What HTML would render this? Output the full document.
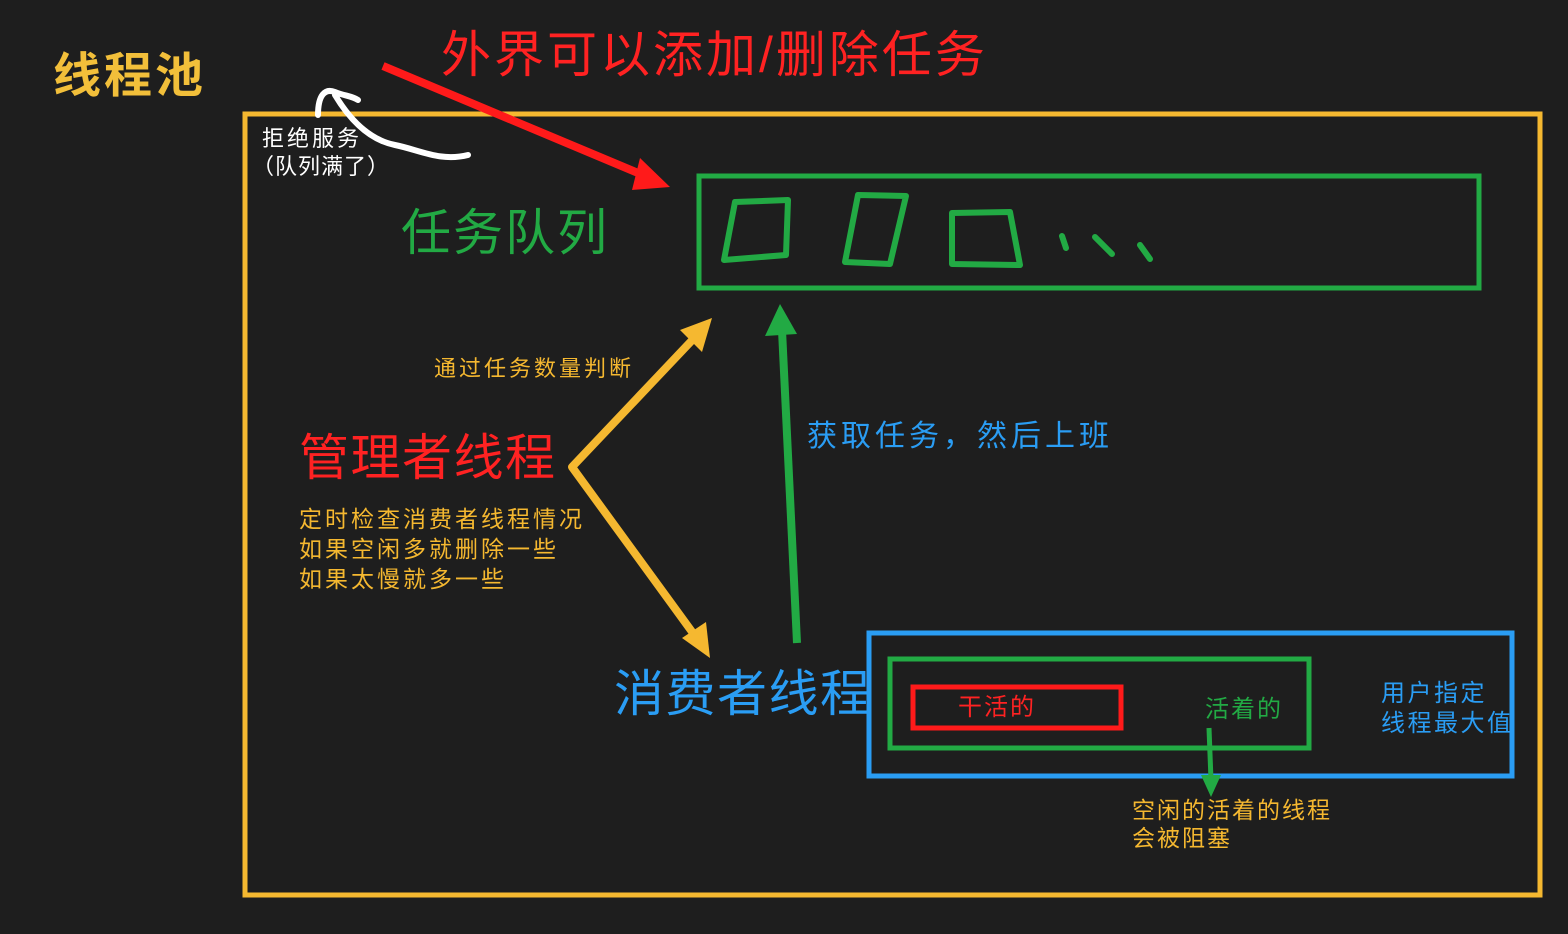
<!DOCTYPE html>
<html><head><meta charset="utf-8"><style>
html,body{margin:0;padding:0;background:#1e1e1e;}
svg{display:block}
text{font-family:"Liberation Sans","Noto Sans CJK SC",sans-serif;}
</style></head><body>
<svg width="1568" height="934" viewBox="0 0 1568 934" xmlns="http://www.w3.org/2000/svg">
<rect width="1568" height="934" fill="#1e1e1e"/>
<text x="53" y="92" font-size="48" fill="#f2bf3a" font-weight="bold" letter-spacing="3">线程池</text>
<text x="441" y="72" font-size="50" fill="#ff2222" letter-spacing="3">外界可以添加/删除任务</text>
<rect x="245" y="114" width="1295" height="781" fill="none" stroke="#f5b830" stroke-width="5"/>
<line x1="383" y1="66" x2="650" y2="178" stroke="#ff1a1a" stroke-width="8"/>
<polygon points="670,187 640,158 632,190" fill="#ff1a1a"/>
<path d="M468,155 C440,162 420,150 395,145 C370,140 350,120 335,95 M318,115 C318,95 325,88 335,92 C345,96 352,96 358,100" fill="none" stroke="#fff" stroke-width="6" stroke-linecap="round"/>
<text x="262" y="146" font-size="22" fill="#fff" letter-spacing="3">拒绝服务</text>
<text x="252" y="174" font-size="22" fill="#fff" letter-spacing="1">（队列满了）</text>
<text x="401" y="250" font-size="50" fill="#22aa44" letter-spacing="2">任务队列</text>
<rect x="699" y="176" width="780" height="112" fill="none" stroke="#22aa44" stroke-width="5"/>
<path d="M735,202 L788,200 L786,255 L724,260 Z" fill="none" stroke="#22aa44" stroke-width="6" stroke-linejoin="round"/>
<path d="M858,195 L906,196 L890,264 L845,262 Z" fill="none" stroke="#22aa44" stroke-width="6" stroke-linejoin="round"/>
<path d="M952,213 L1010,212 L1020,265 L952,264 Z" fill="none" stroke="#22aa44" stroke-width="6" stroke-linejoin="round"/>
<path d="M1062,236 L1066,248 M1095,237 L1112,254 M1140,245 L1150,259" stroke="#22aa44" stroke-width="6" stroke-linecap="round"/>
<path d="M698,334 L572,467 L698,640" fill="none" stroke="#f5b830" stroke-width="8" stroke-linejoin="round"/>
<polygon points="712,318 680,330 702,352" fill="#f5b830"/>
<polygon points="710,658 706,622 682,638" fill="#f5b830"/>
<text x="434" y="376" font-size="22" fill="#f5b830" letter-spacing="3">通过任务数量判断</text>
<text x="299" y="475" font-size="50" fill="#ff2222" letter-spacing="1.5">管理者线程</text>
<text x="299" y="527" font-size="23" fill="#f5b830" letter-spacing="3">定时检查消费者线程情况</text>
<text x="299" y="557" font-size="23" fill="#f5b830" letter-spacing="3">如果空闲多就删除一些</text>
<text x="299" y="587" font-size="23" fill="#f5b830" letter-spacing="3">如果太慢就多一些</text>
<line x1="797" y1="643" x2="782" y2="330" stroke="#22aa44" stroke-width="8"/>
<polygon points="780,304 765,336 797,334" fill="#22aa44"/>
<text x="807" y="446" font-size="30" fill="#2a9df4" letter-spacing="4">获取任务，然后上班</text>
<text x="614" y="711" font-size="50" fill="#2a9df4" letter-spacing="1.5">消费者线程</text>
<rect x="869" y="633" width="643" height="143" fill="none" stroke="#2a9df4" stroke-width="5"/>
<rect x="890" y="659" width="419" height="89" fill="none" stroke="#22aa44" stroke-width="5"/>
<rect x="913" y="687" width="208" height="41" fill="none" stroke="#ff1a1a" stroke-width="5"/>
<text x="958" y="715" font-size="24" fill="#ff2222" letter-spacing="2">干活的</text>
<text x="1205" y="717" font-size="24" fill="#22aa44" letter-spacing="2">活着的</text>
<text x="1381" y="701" font-size="24" fill="#2a9df4" letter-spacing="2.5">用户指定</text>
<text x="1381" y="731" font-size="24" fill="#2a9df4" letter-spacing="2.5">线程最大值</text>
<line x1="1209" y1="728" x2="1211" y2="780" stroke="#22aa44" stroke-width="5"/>
<polygon points="1211,797 1201,775 1221,775" fill="#22aa44"/>
<text x="1132" y="818" font-size="23" fill="#f5b830" letter-spacing="2">空闲的活着的线程</text>
<text x="1132" y="846" font-size="23" fill="#f5b830" letter-spacing="2">会被阻塞</text>
</svg>
</body></html>
